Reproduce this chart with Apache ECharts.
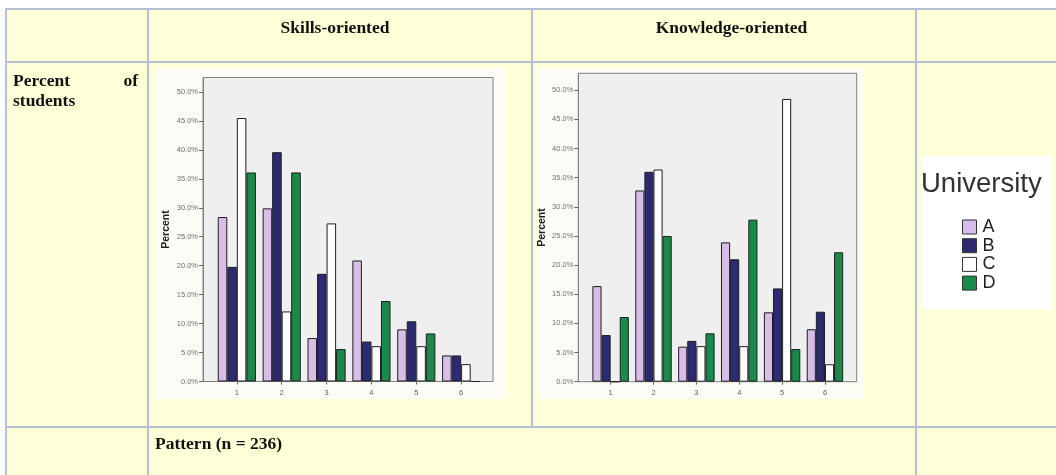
<!DOCTYPE html>
<html>
<head>
<meta charset="utf-8">
<script src="https://cdn.jsdelivr.net/npm/echarts@6/dist/echarts.min.js"></script>
<style>
html,body{margin:0;padding:0;background:#ffffff;}
#c{width:1056px;height:475px;}
</style>
</head>
<body>
<div id="c"></div>
<script>
// ---- data ----
var categories = ['1', '2', '3', '4', '5', '6'];
var universities = ['A', 'B', 'C', 'D'];
var skillsA = [28.4, 29.9, 7.5, 20.9, 9.0, 4.5];
var skillsB = [19.8, 39.6, 18.6, 6.9, 10.4, 4.5];
var skillsC = [45.5, 12.1, 27.3, 6.1, 6.1, 3.0];
var skillsD = [36.1, 36.1, 5.6, 13.9, 8.3, 0];
var knowA = [16.4, 32.8, 6.0, 23.9, 11.9, 9.0];
var knowB = [8.0, 36.0, 7.0, 21.0, 16.0, 12.0];
var knowC = [0, 36.4, 6.1, 6.1, 48.5, 3.0];
var knowD = [11.1, 25.0, 8.3, 27.8, 5.6, 22.2];
var yTicks = [0, 5, 10, 15, 20, 25, 30, 35, 40, 45, 50];
var headerLabels = ['Skills-oriented', 'Knowledge-oriented'];
var rowLabel1 = ['Percent', 'of', 'students'];
var footLabel = 'Pattern (n = 236)';
var legendTitle = 'University';

var colors = {A: '#D8BDEA', B: '#2B2A72', C: '#FFFFFF', D: '#1A8A4A'};

var chart = echarts.init(document.getElementById('c'), null, {renderer: 'canvas'});

var border = '#B3C3D3';
var cellBg = '#FFFFD8';
var serif = '"Liberation Serif", "Times New Roman", serif';
var sans = '"Liberation Sans", Arial, sans-serif';

function rect(x, y, w, h, fill, z) {
  return {type: 'rect', silent: true, z: z, shape: {x: x, y: y, width: w, height: h}, style: {fill: fill}};
}
function txt(x, y, t, opts) {
  return {type: 'text', silent: true, z: 5, x: x, y: y,
    style: Object.assign({text: t, fill: '#111', fontFamily: serif, fontSize: 17.5, fontWeight: 'bold',
      textAlign: 'left', textVerticalAlign: 'middle'}, opts || {})};
}

var graphics = [
  rect(5, 8, 1051, 467, cellBg, -10),
  // chart image backgrounds
  rect(156, 68, 349, 331, '#FCFCF6', -9),
  rect(538, 68, 325, 331, '#FCFCF6', -9),
  // legend box
  rect(922, 156, 130, 153, '#FFFFFF', -9),
  // table lines
  rect(5, 8, 1051, 2, border, -8),
  rect(5, 61, 1051, 2, border, -8),
  rect(5, 426, 1051, 2, border, -8),
  rect(5, 8, 2, 467, border, -8),
  rect(147, 8, 2, 467, border, -8),
  rect(531, 8, 2, 420, border, -8),
  rect(915, 8, 2, 467, border, -8),
  // texts
  txt(335, 28, headerLabels[0], {textAlign: 'center'}),
  txt(731.5, 28, headerLabels[1], {textAlign: 'center'}),
  txt(13, 81, rowLabel1[0]),
  txt(138, 81, rowLabel1[1], {textAlign: 'right'}),
  txt(13, 101, rowLabel1[2]),
  txt(155, 444.5, footLabel),
  txt(921, 184, legendTitle, {fontFamily: sans, fontWeight: 'normal', fontSize: 27.5, fill: '#333'})
];

function frameY(gridIndex, max) {
  return {
    type: 'value', gridIndex: gridIndex, min: 0, max: max, z: 3,
    name: 'Percent', nameLocation: 'middle', nameRotate: 90, nameGap: 31,
    nameTextStyle: {fontFamily: sans, fontWeight: 'bold', fontSize: 10.5, color: '#222'},
    axisLine: {show: true, lineStyle: {color: '#808080', width: 1}},
    axisTick: {show: true, length: 4, inside: false, customValues: yTicks, lineStyle: {color: '#666'}},
    axisLabel: {show: true, customValues: yTicks, margin: 5, fontFamily: sans, fontSize: 7.5, color: '#6E6E6E',
      formatter: function (v) { return v.toFixed(1) + '%'; }},
    splitLine: {show: false}
  };
}
function barY(gridIndex, max) {
  return {type: 'value', gridIndex: gridIndex, min: 0, max: max, show: false, splitLine: {show: false}};
}
function barX(gridIndex) {
  return {
    type: 'category', gridIndex: gridIndex, data: categories, z: 3,
    axisLine: {show: false},
    axisTick: {show: true, alignWithLabel: true, length: 3, lineStyle: {color: '#666'}},
    axisLabel: {margin: 7.5, fontFamily: sans, fontSize: 7.5, color: '#5E5E5E'}
  };
}

function mkSeries(name, data, xi, yi) {
  return {
    type: 'bar', name: name, data: data, xAxisIndex: xi, yAxisIndex: yi,
    barGap: '0%', barCategoryGap: '15%', silent: true,
    itemStyle: {color: colors[name], borderColor: '#1E1E1E', borderWidth: 1},
    animation: false
  };
}

var max1 = 52.5, max2 = 52.9;

var option = {
  backgroundColor: '#FFFFFF',
  animation: false,
  graphic: graphics,
  grid: [
    {left: 203, top: 77.5, width: 290, height: 304, show: true, backgroundColor: '#EFEFEF', borderColor: '#808080', borderWidth: 1},
    {left: 214.4, top: 77.5, width: 269.2, height: 304},
    {left: 578.3, top: 73.3, width: 278.4, height: 308.4, show: true, backgroundColor: '#EFEFEF', borderColor: '#808080', borderWidth: 1},
    {left: 589.2, top: 73.3, width: 257.2, height: 308.4}
  ],
  xAxis: [
    {type: 'value', gridIndex: 0, show: false, min: 0, max: 1},
    barX(1),
    {type: 'value', gridIndex: 2, show: false, min: 0, max: 1},
    barX(3)
  ],
  yAxis: [frameY(0, max1), barY(1, max1), frameY(2, max2), barY(3, max2)],
  legend: {
    data: universities, orient: 'vertical', left: 962, top: 218, padding: 0,
    itemWidth: 14, itemHeight: 14, itemGap: 0.7, icon: 'rect', selectedMode: false,
    itemStyle: {borderColor: '#333', borderWidth: 1},
    textStyle: {fontFamily: sans, fontSize: 18, color: '#222', padding: [0, 0, 0, 1]}
  },
  series: [
    mkSeries('A', skillsA, 1, 1),
    mkSeries('B', skillsB, 1, 1),
    mkSeries('C', skillsC, 1, 1),
    mkSeries('D', skillsD, 1, 1),
    mkSeries('A', knowA, 3, 3),
    mkSeries('B', knowB, 3, 3),
    mkSeries('C', knowC, 3, 3),
    mkSeries('D', knowD, 3, 3)
  ]
};
chart.setOption(option);
</script>
</body>
</html>
